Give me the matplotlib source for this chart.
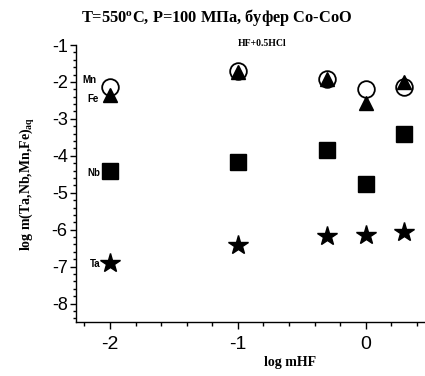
import matplotlib
matplotlib.use("Agg")
import matplotlib.pyplot as plt
from matplotlib.ticker import MultipleLocator

plt.rcParams['mathtext.fontset'] = 'custom'
plt.rcParams['mathtext.rm'] = 'Liberation Serif:bold'
plt.rcParams['mathtext.it'] = 'Liberation Serif:bold'
plt.rcParams['mathtext.bf'] = 'Liberation Serif:bold'
plt.rcParams['axes.unicode_minus'] = False

# log mHF values
log_mhf = [-2, -1, -0.3, 0, 0.3]
# log m of the dissolved elements
mn = [-2.13, -1.70, -1.92, -2.20, -2.13]
fe = [-2.35, -1.74, -1.93, -2.56, -1.99]
nb = [-4.42, -4.17, -3.84, -4.76, -3.41]
ta = [-6.90, -6.41, -6.18, -6.14, -6.06]

elements = ["Mn", "Fe", "Nb", "Ta"]
xticks = [-2, -1, 0]
yticks = [-1, -2, -3, -4, -5, -6, -7, -8]

fig = plt.figure(figsize=(4.25, 3.76), dpi=100)
W, H = 425, 376
ax = fig.add_axes([76 / W, 1 - 322 / H, (W - 76) / W, (322 - 45) / H])

ax.plot(log_mhf, fe, linestyle='none', marker='^', markersize=10.5,
        color='black', zorder=3)
ax.plot(log_mhf, mn, linestyle='none', marker='o', markersize=12,
        markerfacecolor='none', markeredgecolor='black', markeredgewidth=1.3,
        zorder=4)
ax.plot(log_mhf, nb, linestyle='none', marker='s', markersize=11,
        color='black', zorder=3)
ax.plot(log_mhf, ta, linestyle='none', marker='*', markersize=15,
        color='black', zorder=3)

# element names beside the first column of points
lab_kw = dict(fontsize=7, fontweight='bold', family='Liberation Sans',
              ha='right', va='center')
ax.annotate(elements[0], (log_mhf[0], mn[0]), xytext=(-10, 5),
            textcoords='offset points', **lab_kw)
ax.annotate(elements[1], (log_mhf[0], fe[0]), xytext=(-8, -3),
            textcoords='offset points', **lab_kw)
ax.annotate(elements[2], (log_mhf[0], nb[0]), xytext=(-7, -1),
            textcoords='offset points', **lab_kw)
ax.annotate(elements[3], (log_mhf[0], ta[0]), xytext=(-7, -1),
            textcoords='offset points', **lab_kw)

ax.set_xlim(-2.265, 0.462)
ax.set_ylim(-8.5, -1)
ax.set_xticks(xticks)
ax.set_yticks(yticks)
ax.xaxis.set_minor_locator(MultipleLocator(0.2))
ax.yaxis.set_minor_locator(MultipleLocator(0.2))

for side in ('top', 'right'):
    ax.spines[side].set_visible(False)
for side in ('left', 'bottom'):
    ax.spines[side].set_linewidth(1.0)

ax.tick_params(axis='x', which='major', direction='out', length=5, width=1,
               labelsize=14, pad=5)
ax.tick_params(axis='x', which='minor', direction='out', length=3, width=1)
ax.tick_params(axis='y', which='major', direction='out', length=4, width=1,
               labelsize=13, pad=2)
ax.tick_params(axis='y', which='minor', direction='out', length=2.5, width=1)
for lbl in ax.get_xticklabels() + ax.get_yticklabels():
    lbl.set_family('Liberation Sans')

ax.set_xlabel('log mHF', fontsize=10, fontweight='bold',
              family='Liberation Serif')
ax.xaxis.set_label_coords((290 - 76) / (W - 76), -(356 - 322) / (322 - 45))
ax.set_ylabel(r'log m(Ta,Nb,Mn,Fe)$_{\mathrm{aq}}$', fontsize=10,
              fontweight='bold', family='Liberation Serif')
ax.yaxis.set_label_coords(-(76 - 37) / (W - 76), 0.5)

fig.text(217 / W, 1 - 17 / H, r'T=550$^{\mathrm{o}}$C, P=100 МПа, буфер Co-CoO',
         fontsize=11.8, fontweight='bold', family='Liberation Serif',
         ha='center', va='center')
fig.text(262 / W, 1 - 43 / H, 'HF+0.5HCl', fontsize=7, fontweight='bold',
         family='Liberation Serif', ha='center', va='center')

fig.savefig('out.png', dpi=100)
